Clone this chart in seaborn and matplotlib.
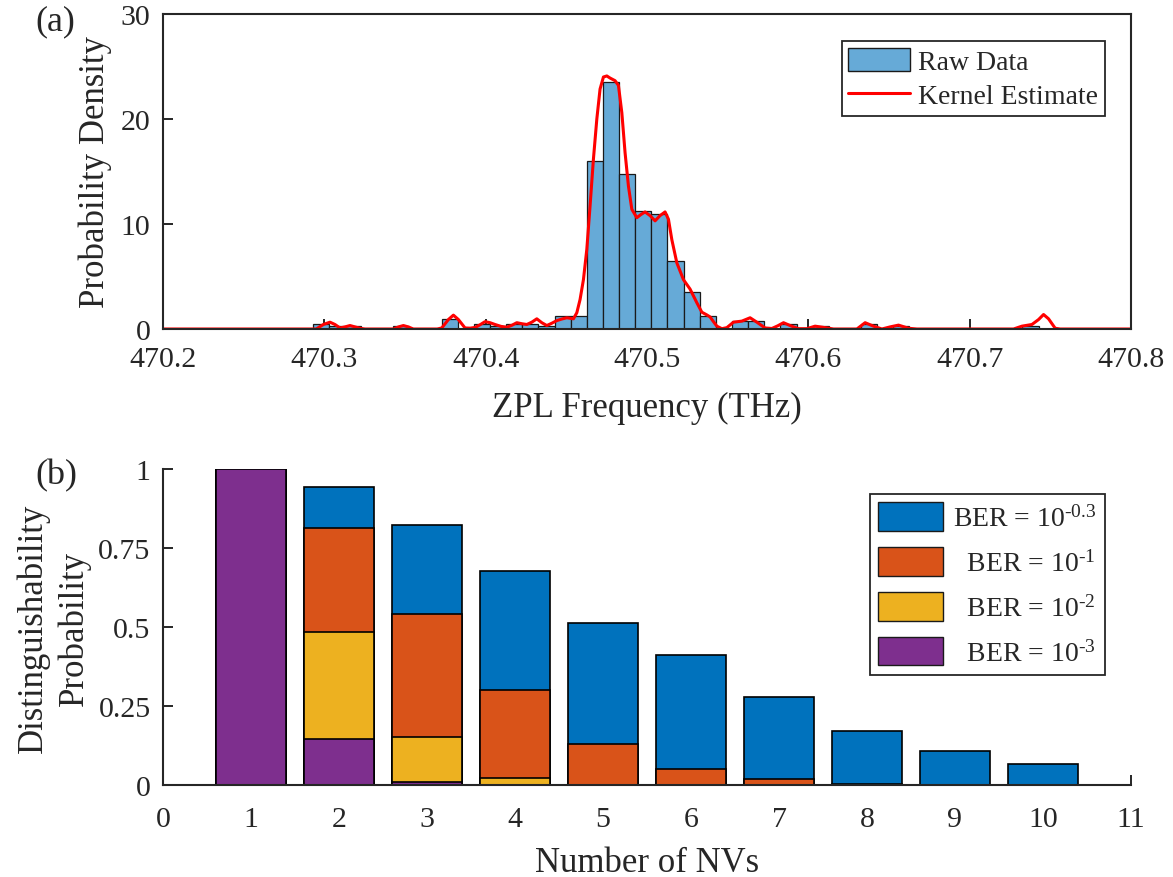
import numpy as np
import pandas as pd
import matplotlib
matplotlib.use("Agg")
import matplotlib.pyplot as plt
import seaborn as sns
from matplotlib.patches import Patch
from matplotlib.lines import Line2D

# ---------------- data: panel (a) ----------------
bin_start = 470.2927
bin_width = 0.01
hist_density = [0.5, 0.25, 0.25, 0, 0, 0.25, 0, 0, 1.0, 0,
                0.5, 0.25, 0.5, 0.5, 0.25, 1.25, 1.25, 16.0, 23.5, 14.75,
                11.25, 11.0, 6.5, 3.5, 1.25, 0, 0.75, 0.75, 0, 0.5,
                0, 0.25, 0, 0, 0.5, 0, 0.25, 0, 0, 0,
                0, 0, 0, 0, 0.25]

kde_freq = [470.2, 470.295, 470.2994, 470.3035, 470.3066, 470.3097, 470.3128, 470.3159,
            470.319, 470.3221, 470.3252, 470.3428, 470.346, 470.349, 470.352, 470.3552,
            470.370, 470.3728, 470.3769, 470.380, 470.3831, 470.3872, 470.3903, 470.3935,
            470.3965, 470.3996, 470.4027, 470.4058, 470.4095, 470.4131, 470.4162, 470.4193,
            470.4225, 470.4255, 470.4286, 470.4317, 470.4348, 470.4379, 470.441, 470.4441,
            470.4472, 470.4503, 470.4524, 470.4544, 470.4565, 470.4585, 470.4606, 470.4627,
            470.4647, 470.4668, 470.4689, 470.4709, 470.473, 470.4751, 470.4771, 470.4802,
            470.4823, 470.4844, 470.4864, 470.4885, 470.4906, 470.4937, 470.4962, 470.4988,
            470.5019, 470.505, 470.5081, 470.5112, 470.5133, 470.5154, 470.5185, 470.5226,
            470.5267, 470.5309, 470.534, 470.537, 470.5391, 470.5412, 470.5433, 470.5464,
            470.5495, 470.5536, 470.5588, 470.5639, 470.5681, 470.5732, 470.5774, 470.581,
            470.5846, 470.5887, 470.5939, 470.5991, 470.6042, 470.6104, 470.6156, 470.6301,
            470.6352, 470.6404, 470.6456, 470.6507, 470.6559, 470.6621, 470.6673, 470.7272,
            470.7324, 470.7386, 470.7427, 470.7458, 470.7489, 470.753, 470.7561, 470.8]
kde_density = [0, 0, 0.43, 0.65, 0.43, 0.1, 0.2, 0.33,
               0.2, 0.07, 0, 0, 0.2, 0.33, 0.2, 0,
               0, 0.1, 0.9, 1.32, 0.9, 0.1, 0.08, 0.15,
               0.4, 0.7, 0.6, 0.43, 0.25, 0.17, 0.35, 0.6,
               0.5, 0.43, 0.65, 0.97, 0.6, 0.33, 0.55, 0.8,
               0.95, 1.07, 1.02, 0.97, 1.55, 2.8, 4.7, 7.6,
               11.7, 16.2, 20.0, 22.85, 24.0, 24.1, 23.9, 23.65,
               23.2, 20.6, 16.8, 13.6, 11.4, 10.6, 10.9, 11.15,
               10.8, 10.3, 10.8, 11.15, 10.45, 8.5, 6.3, 4.7,
               3.8, 2.5, 1.6, 1.35, 1.15, 0.7, 0.27, 0.03,
               0.13, 0.65, 0.75, 1.07, 0.65, 0.1, 0.05, 0.3,
               0.6, 0.33, 0.03, 0.03, 0.27, 0.13, 0, 0,
               0.6, 0.27, 0, 0.2, 0.37, 0.07, 0, 0,
               0.27, 0.43, 0.9, 1.38, 0.97, 0.07, 0, 0]

freq_ticks = [470.2, 470.3, 470.4, 470.5, 470.6, 470.7, 470.8]
dens_ticks = [0, 10, 20, 30]

# ---------------- data: panel (b) ----------------
num_nvs = [1, 2, 3, 4, 5, 6, 7, 8, 9, 10]
ber_levels = ["-0.3", "-1", "-2", "-3"]
ber_legend = [r"BER = 10$^{\text{-0.3}}$", r"  BER = 10$^{\text{-1}}$",
              r"  BER = 10$^{\text{-2}}$", r"  BER = 10$^{\text{-3}}$"]
prob_ber_m03 = [1.0, 0.943, 0.822, 0.677, 0.513, 0.412, 0.280, 0.171, 0.107, 0.068]
prob_ber_m1 = [1.0, 0.812, 0.540, 0.300, 0.129, 0.052, 0.018, 0.004, 0.001, 0.0]
prob_ber_m2 = [1.0, 0.483, 0.151, 0.022, 0.001, 0.0, 0.0, 0.0, 0.0, 0.0]
prob_ber_m3 = [1.0, 0.145, 0.011, 0.0005, 0.0, 0.0, 0.0, 0.0, 0.0, 0.0]
nv_ticks = list(range(0, 12))
prob_ticks = [0, 0.25, 0.5, 0.75, 1]
prob_ticklabels = ["0", "0.25", "0.5", "0.75", "1"]

ber_colors = ["#0072BD", "#D95319", "#EDB120", "#7E2F8E"]
hist_color = "#66AAD7"
ink = "#262626"

# ---------------- style ----------------
sns.set_theme(style="ticks")
plt.rcParams.update({
    "font.family": ["Liberation Serif", "DejaVu Serif"],
    "mathtext.fontset": "custom",
    "mathtext.rm": "Liberation Serif",
    "mathtext.it": "Liberation Serif:italic",
    "mathtext.bf": "Liberation Serif:bold",
    "text.color": ink,
    "axes.labelcolor": ink,
    "xtick.color": ink,
    "ytick.color": ink,
    "axes.edgecolor": ink,
    "axes.linewidth": 1.5,
    "xtick.direction": "in",
    "ytick.direction": "in",
    "xtick.major.size": 7,
    "ytick.major.size": 7,
    "xtick.major.width": 1.4,
    "ytick.major.width": 1.4,
    "xtick.labelsize": 21.5,
    "ytick.labelsize": 21.5,
    "axes.labelsize": 25,
})

W, H = 1173, 878
fig = plt.figure(figsize=(W / 100, H / 100), dpi=100)

# ---------------- panel (a) ----------------
ax1 = fig.add_axes([163 / W, 1 - 330 / H, 968 / W, 315 / H])
edges = bin_start + bin_width * np.arange(len(hist_density) + 1)
centers = edges[:-1] + bin_width / 2
hist_df = pd.DataFrame({"freq": centers, "density": hist_density})
sns.histplot(data=hist_df, x="freq", weights="density", bins=list(edges), ax=ax1,
             color=hist_color, alpha=1, edgecolor="#1a1a1a", linewidth=0.9)
sns.lineplot(x=kde_freq, y=kde_density, ax=ax1, color="red", linewidth=2.2)
ax1.set_xlim(470.2, 470.8)
ax1.set_ylim(0, 30)
ax1.set_xticks(freq_ticks)
ax1.set_xticklabels([f"{t:.1f}" for t in freq_ticks])
ax1.set_yticks(dens_ticks)
ax1.tick_params(axis="x", pad=12)
ax1.tick_params(axis="y", pad=9)
ax1.set_xlabel("ZPL Frequency (THz)", labelpad=14)
ax1.set_ylabel("Probability Density", labelpad=6)
for s in ax1.spines.values():
    s.set_visible(True)
    s.set_color(ink)
    s.set_linewidth(1.5)

h_a = [Patch(facecolor=hist_color, edgecolor="#1a1a1a", linewidth=1.0),
       Line2D([0], [0], color="red", linewidth=2.2)]
leg1 = ax1.legend(h_a, ["Raw Data", "Kernel Estimate"], loc="upper right",
                  bbox_to_anchor=(0.973, 0.914), borderaxespad=0, fontsize=20,
                  frameon=True, fancybox=False, framealpha=1, edgecolor=ink,
                  handlelength=2.2, handleheight=0.9, handletextpad=0.3,
                  borderpad=0.25, labelspacing=0.25)
leg1.get_frame().set_linewidth(1.3)

# ---------------- panel (b) ----------------
ax2 = fig.add_axes([163 / W, 1 - 786 / H, 968 / W, 316 / H])
df = pd.DataFrame({
    "N": num_nvs * 4,
    "prob": prob_ber_m03 + prob_ber_m1 + prob_ber_m2 + prob_ber_m3,
    "BER": sum([[b] * len(num_nvs) for b in ber_levels], []),
})
sns.barplot(data=df, x="N", y="prob", hue="BER", hue_order=ber_levels,
            palette=ber_colors, dodge=False, native_scale=True, errorbar=None,
            saturation=1, edgecolor="black", linewidth=1.2, legend=False, ax=ax2)
ax2.set_xlim(0, 11)
ax2.set_ylim(0, 1)
ax2.set_xticks(nv_ticks)
ax2.set_xticklabels([str(t) for t in nv_ticks])
ax2.set_yticks(prob_ticks)
ax2.set_yticklabels(prob_ticklabels)
ax2.tick_params(axis="x", pad=15)
ax2.tick_params(axis="y", pad=9)
ax2.set_xlabel("Number of NVs", labelpad=10)
ax2.set_ylabel("Distinguishability\nProbability", labelpad=5, linespacing=1.32)
ax2.spines["top"].set_visible(False)
ax2.spines["right"].set_visible(False)

h_b = [Patch(facecolor=c, edgecolor="#1a1a1a", linewidth=1.0) for c in ber_colors]
leg2 = ax2.legend(h_b, ber_legend, loc="upper right",
                  bbox_to_anchor=(0.973, 0.921), borderaxespad=0, fontsize=20,
                  frameon=True, fancybox=False, framealpha=1, edgecolor=ink,
                  handlelength=2.35, handleheight=1.2, handletextpad=0.35,
                  borderpad=0.3, labelspacing=0.55)
leg2.get_frame().set_linewidth(1.3)

fig.text(35 / W, 1 - 22 / H, "(a)", fontsize=26, ha="left", va="center")
fig.text(35 / W, 1 - 476 / H, "(b)", fontsize=26, ha="left", va="center")

fig.savefig("out.png", dpi=100)
